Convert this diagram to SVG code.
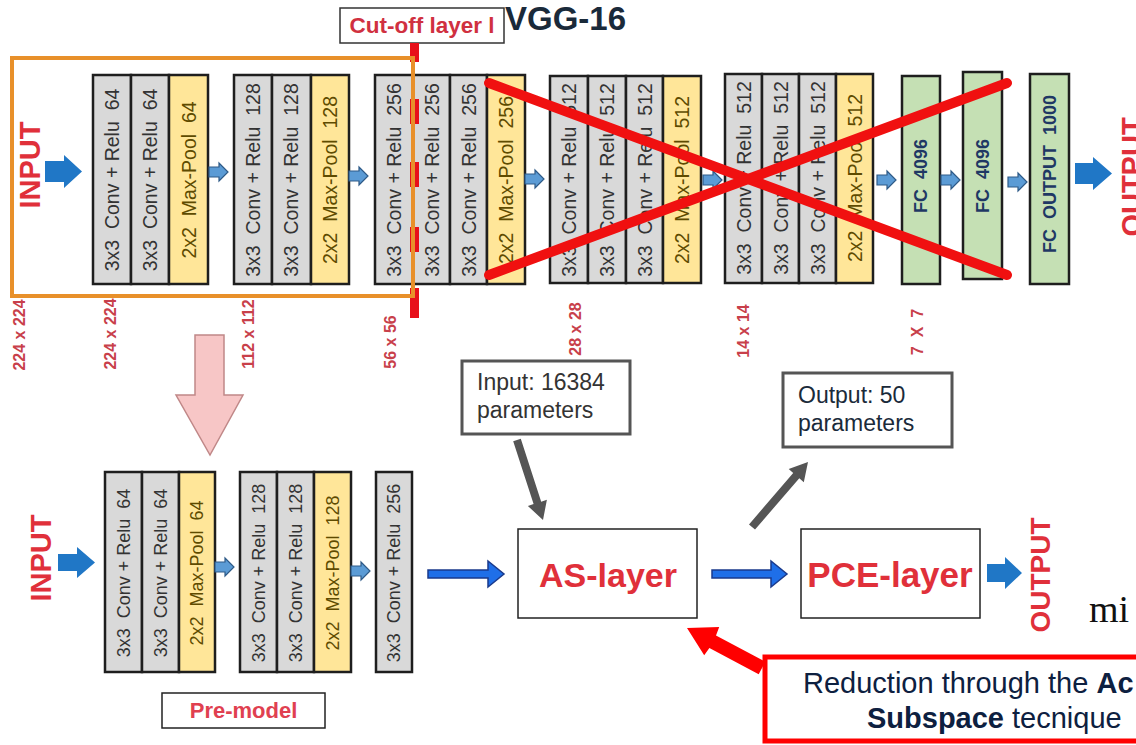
<svg xmlns="http://www.w3.org/2000/svg" xmlns:xlink="http://www.w3.org/1999/xlink" width="1136" height="745" viewBox="0 0 1136 745" xml:space="preserve">
<style>
  .gc { fill: #d9d9d9; stroke: #1e1e1e; stroke-width: 2.5; }
  .yc { fill: #ffe699; stroke: #1e1e1e; stroke-width: 2.5; }
  .fc { fill: #c5e0b4; stroke: #1e1e1e; stroke-width: 2.5; }
  .t { font-family: "Liberation Sans", Arial, sans-serif; white-space: pre; text-anchor: middle; dominant-baseline: central; }
  .gt { font-size: 19.5px; fill: #333333; }
  .yt { font-size: 19.5px; fill: #5e4b00; }
  .gtb { font-size: 18px; fill: #333333; }
  .ytb { font-size: 18px; fill: #5e4b00; }
  .ft { font-size: 18px; font-weight: bold; fill: #1f3864; }
  .dim { font-size: 16px; font-weight: bold; fill: #c8404a; }
  .big { font-weight: bold; fill: #e0303a; }
  .sa { fill: #5b9bd5; stroke: #2e5a87; stroke-width: 1.2; }
  .ba { fill: #2077c6; }
  .la { fill: #1f6fe8; stroke: #1a3a8c; stroke-width: 1.5; }
  .lbl { font-family: "Liberation Sans", Arial, sans-serif; }
  .cut { fill: #e8101a; }
</style>
<defs>
  <path id="sa" d="M0,-5 H10 V-9 L19,0 L10,9 V5 H0 Z"/>
</defs>
<rect x="0" y="0" width="1136" height="745" fill="#ffffff"/>

<!-- Titles -->
<g id="title">
  <rect x="340" y="8" width="164" height="35" fill="#ffffff" stroke="#333" stroke-width="1.5"/>
  <text x="422" y="33" class="lbl" font-size="22.5" font-weight="bold" fill="#d03040" text-anchor="middle">Cut-off layer l</text>
  <text x="505" y="30" class="lbl" font-size="33" font-weight="bold" fill="#1a2a3a">VGG-16</text>
</g>

<!-- Top INPUT -->
<g id="input-top">
  <text class="t big" font-size="29" transform="translate(30,165) rotate(-90)">INPUT</text>
</g>

<!-- Top block 1 -->
<g id="top-block1">
  <rect class="gc" x="93" y="75" width="38" height="209"/>
  <rect class="gc" x="131" y="75" width="38" height="209"/>
  <rect class="yc" x="169" y="75" width="39" height="209"/>
  <text class="t gt" transform="translate(112,180) rotate(-90)">3x3  Conv + Relu  64</text>
  <text class="t gt" transform="translate(150,180) rotate(-90)">3x3  Conv + Relu  64</text>
  <text class="t yt" transform="translate(189,180) rotate(-90)">2x2  Max-Pool  64</text>
</g>
<g id="top-block2">
  <rect class="gc" x="234" y="75" width="38" height="209"/>
  <rect class="gc" x="272" y="75" width="39" height="209"/>
  <rect class="yc" x="311" y="75" width="38" height="209"/>
  <text class="t gt" transform="translate(253,180) rotate(-90)">3x3  Conv + Relu  128</text>
  <text class="t gt" transform="translate(291,180) rotate(-90)">3x3  Conv + Relu  128</text>
  <text class="t yt" transform="translate(330,180) rotate(-90)">2x2  Max-Pool  128</text>
</g>
<g id="top-block3">
  <rect class="gc" x="375" y="75" width="38" height="209"/>
  <rect class="gc" x="413" y="75" width="37" height="209"/>
  <rect class="gc" x="450" y="75" width="37" height="209"/>
  <rect class="yc" x="487" y="75" width="38" height="209"/>
  <text class="t gt" transform="translate(394,180) rotate(-90)">3x3  Conv + Relu  256</text>
  <text class="t gt" transform="translate(431.5,180) rotate(-90)">3x3  Conv + Relu  256</text>
  <text class="t gt" transform="translate(468.5,180) rotate(-90)">3x3  Conv + Relu  256</text>
  <text class="t yt" transform="translate(506,180) rotate(-90)">2x2  Max-Pool  256</text>
</g>
<g id="top-block4">
  <rect class="gc" x="550" y="76" width="38" height="207"/>
  <rect class="gc" x="588" y="76" width="38" height="207"/>
  <rect class="gc" x="626" y="76" width="37" height="207"/>
  <rect class="yc" x="663" y="76" width="38" height="207"/>
  <text class="t gt" transform="translate(569,180) rotate(-90)">3x3  Conv + Relu  512</text>
  <text class="t gt" transform="translate(607,180) rotate(-90)">3x3  Conv + Relu  512</text>
  <text class="t gt" transform="translate(644.5,180) rotate(-90)">3x3  Conv + Relu  512</text>
  <text class="t yt" transform="translate(682,180) rotate(-90)">2x2  Max-Pool  512</text>
</g>
<g id="top-block5">
  <rect class="gc" x="725" y="74" width="37" height="209"/>
  <rect class="gc" x="762" y="74" width="37" height="209"/>
  <rect class="gc" x="799" y="74" width="37" height="209"/>
  <rect class="yc" x="836" y="74" width="37" height="209"/>
  <text class="t gt" transform="translate(743.5,178) rotate(-90)">3x3  Conv + Relu  512</text>
  <text class="t gt" transform="translate(780.5,178) rotate(-90)">3x3  Conv + Relu  512</text>
  <text class="t gt" transform="translate(817.5,178) rotate(-90)">3x3  Conv + Relu  512</text>
  <text class="t yt" transform="translate(854.5,178) rotate(-90)">2x2  Max-Pool  512</text>
</g>
<g id="fc1">
  <rect class="fc" x="902" y="76" width="38" height="208"/>
  <text class="t ft" transform="translate(921,176) rotate(-90)">FC  4096</text>
</g>
<g id="fc2">
  <rect class="fc" x="963" y="72" width="39" height="207"/>
  <text class="t ft" transform="translate(982.5,176) rotate(-90)">FC  4096</text>
</g>
<g id="fc3">
  <rect class="fc" x="1030" y="74" width="39" height="210"/>
  <text class="t ft" transform="translate(1049.5,174) rotate(-90)">FC  OUTPUT  1000</text>
</g>
<g id="output-top">
  <text class="t big" font-size="29" transform="translate(1132,177) rotate(-90)">OUTPUT</text>
</g>

<!-- cut-off line (over the blocks) -->
<g id="cutoff">
  <rect class="cut" x="410" y="43" width="9" height="19"/>
  <rect class="cut" x="410" y="99" width="9" height="25"/>
  <rect class="cut" x="410" y="162" width="9" height="25"/>
  <rect class="cut" x="410" y="227" width="9" height="25"/>
  <rect class="cut" x="410" y="288" width="9" height="30"/>
</g>

<!-- orange frame -->
<rect id="premodel-frame" x="12" y="58" width="401" height="238" fill="none" stroke="#e8902a" stroke-width="4"/>

<!-- dimension labels -->
<g id="dims">
  <text class="t dim" transform="translate(19,335) rotate(-90)">224 x 224</text>
  <text class="t dim" transform="translate(110,334) rotate(-90)">224 x 224</text>
  <text class="t dim" transform="translate(248,334) rotate(-90)">112 x 112</text>
  <text class="t dim" transform="translate(390,342) rotate(-90)">56 x 56</text>
  <text class="t dim" transform="translate(575,329) rotate(-90)">28 x 28</text>
  <text class="t dim" transform="translate(743,331) rotate(-90)">14 x 14</text>
  <text class="t dim" transform="translate(917,332) rotate(-90)">7  X  7</text>
</g>

<!-- Pink arrow -->
<path id="pink-arrow" d="M195,335 H224 V395 H243 L210,455 L176,395 H195 Z" fill="#f7c6c6" stroke="#c08888" stroke-width="1.5"/>

<!-- Bottom row -->
<g id="input-bottom">
  <text class="t big" font-size="29" transform="translate(41,558) rotate(-90)">INPUT</text>
</g>
<g id="bot-block1">
  <rect class="gc" x="105" y="472" width="37" height="200"/>
  <rect class="gc" x="142" y="472" width="37" height="200"/>
  <rect class="yc" x="179" y="472" width="36" height="200"/>
  <text class="t gtb" transform="translate(123.5,573) rotate(-90)">3x3  Conv + Relu  64</text>
  <text class="t gtb" transform="translate(160.5,573) rotate(-90)">3x3  Conv + Relu  64</text>
  <text class="t ytb" transform="translate(197,573) rotate(-90)">2x2  Max-Pool  64</text>
</g>
<g id="bot-block2">
  <rect class="gc" x="240" y="472" width="37" height="200"/>
  <rect class="gc" x="277" y="472" width="37" height="200"/>
  <rect class="yc" x="314" y="472" width="37" height="200"/>
  <text class="t gtb" transform="translate(258.5,573) rotate(-90)">3x3  Conv + Relu  128</text>
  <text class="t gtb" transform="translate(295.5,573) rotate(-90)">3x3  Conv + Relu  128</text>
  <text class="t ytb" transform="translate(332.5,573) rotate(-90)">2x2  Max-Pool  128</text>
</g>
<g id="bot-block3">
  <rect class="gc" x="376" y="472" width="36" height="200"/>
  <text class="t gtb" transform="translate(394,573) rotate(-90)">3x3  Conv + Relu  256</text>
</g>
<g id="premodel-label">
  <rect x="162" y="693" width="163" height="35" fill="#ffffff" stroke="#222" stroke-width="1.5"/>
  <text x="243.5" y="718" class="lbl" font-size="22" font-weight="bold" fill="#e04050" text-anchor="middle">Pre-model</text>
</g>

<g id="as-layer">
  <rect x="518" y="529" width="179" height="89" fill="#ffffff" stroke="#222" stroke-width="1.5"/>
  <text x="608" y="587" class="lbl" font-size="34" font-weight="bold" fill="#e0303a" text-anchor="middle">AS-layer</text>
</g>
<g id="pce-layer">
  <rect x="801" y="529" width="179" height="89" fill="#ffffff" stroke="#222" stroke-width="1.5"/>
  <text x="890" y="587" class="lbl" font-size="35" font-weight="bold" fill="#e0303a" text-anchor="middle">PCE-layer</text>
</g>
<g id="output-bottom">
  <text class="t big" font-size="28" transform="translate(1040,575) rotate(-90)">OUTPUT</text>
</g>

<g id="input-note">
  <rect x="462" y="361" width="168" height="73" fill="#ffffff" stroke="#555" stroke-width="3"/>
  <text x="477" y="390" class="lbl" font-size="23" fill="#333">Input: 16384</text>
  <text x="477" y="418" class="lbl" font-size="23" fill="#333">parameters</text>
</g>
<g id="output-note">
  <rect x="783" y="373" width="169" height="74" fill="#ffffff" stroke="#555" stroke-width="3"/>
  <text x="798" y="403" class="lbl" font-size="23" fill="#1a2a3a">Output: 50</text>
  <text x="798" y="431" class="lbl" font-size="23" fill="#1a2a3a">parameters</text>
</g>

<g id="as-note">
  <rect x="765" y="657" width="400" height="84" fill="#ffffff" stroke="#ff0000" stroke-width="5"/>
  <text x="803" y="693" class="lbl" font-size="29" fill="#0d2040">Reduction through the <tspan font-weight="bold">Ac</tspan></text>
  <text x="867" y="728" class="lbl" font-size="29" fill="#0d2040"><tspan font-weight="bold">Subspace</tspan> tecnique</text>
</g>

<g id="formula">
  <text x="1089" y="622" font-family="'Liberation Serif', 'Times New Roman', serif" font-size="38" fill="#111">mi</text>
</g>

<!-- connectors -->
<g id="connectors">
  <path class="ba" d="M45,161 H64 V155 L82,171.5 L64,188 V182 H45 Z"/>
  <path class="ba" d="M1075,163 H1093 V157 L1112,173.5 L1093,190 V184 H1075 Z"/>
  <use href="#sa" class="sa" x="209" y="172"/>
  <use href="#sa" class="sa" x="349" y="176"/>
  <use href="#sa" class="sa" x="525" y="179"/>
  <use href="#sa" class="sa" x="703" y="180"/>
  <use href="#sa" class="sa" x="877" y="180"/>
  <use href="#sa" class="sa" x="941" y="180"/>
  <use href="#sa" class="sa" x="1008" y="182"/>

  <path class="ba" d="M58,554 H77 V547 L95,562.5 L77,578 V571 H58 Z"/>
  <use href="#sa" class="sa" x="215" y="567"/>
  <use href="#sa" class="sa" x="351" y="571"/>
  <path class="la" d="M428,570 H488 V561 L504,574 L488,587 V578 H428 Z"/>
  <path class="la" d="M712,570 H771 V561 L787,574 L771,587 V578 H712 Z"/>
  <path class="ba" d="M987,564 H1005 V557 L1022,573 L1005,589 V582 H987 Z"/>

  <polygon fill="#555555" points="513.2,441.2 533.6,504.1 527.9,506.0 543,520 546.9,499.8 541.2,501.7 520.8,438.8"/>
  <polygon fill="#555555" points="755.0,529.6 799.3,478.2 803.8,482.2 808,462 788.7,469.1 793.2,473.0 749.0,524.4"/>
  <polygon fill="#ff0000" points="765.3,661.8 716,635.5 719.2,627.1 687,628 704.2,655.3 709.4,647.9 758.7,674.2"/>
</g>

<!-- red X -->
<g id="red-x" stroke="#f01010" stroke-width="10" stroke-linecap="round">
  <line x1="489" y1="83" x2="1007" y2="275"/>
  <line x1="489" y1="275" x2="1007" y2="83"/>
</g>
</svg>
